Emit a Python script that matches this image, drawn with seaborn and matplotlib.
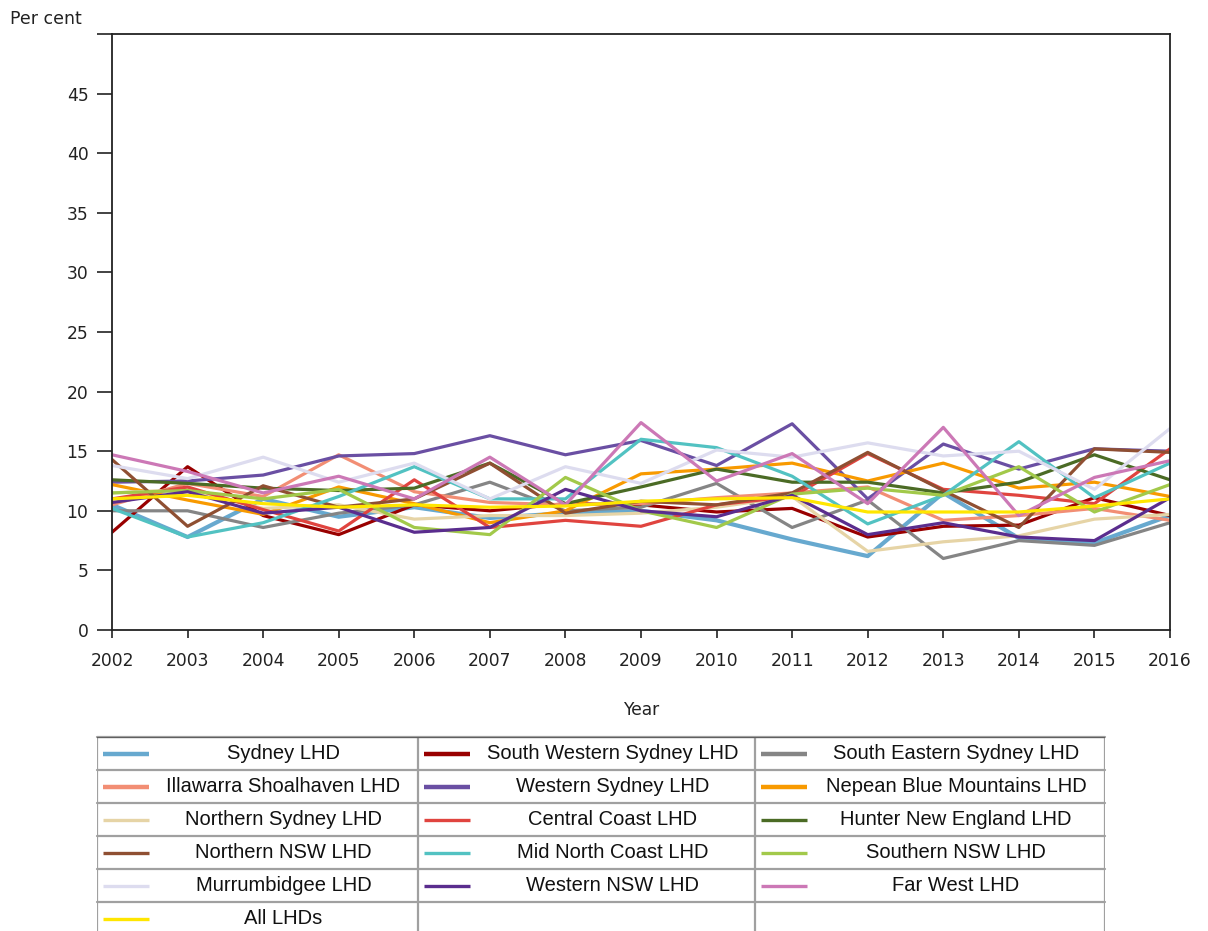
import numpy as np
import pandas as pd
import seaborn as sns
import matplotlib
matplotlib.use("Agg")
import matplotlib.pyplot as plt

years = list(range(2002, 2017))

sydney = [10.5, 7.8, 11.0, 9.5, 10.3, 9.4, 9.8, 10.0, 9.2, 7.6, 6.2, 11.5, 7.7, 7.3, 9.6]
south_western = [8.2, 13.7, 9.6, 8.0, 10.5, 10.0, 10.6, 10.5, 9.9, 10.2, 7.8, 8.7, 8.8, 11.1, 9.6]
south_eastern = [10.0, 10.0, 8.6, 9.8, 10.5, 12.4, 10.0, 10.3, 12.3, 8.6, 10.9, 6.0, 7.5, 7.1, 9.0]
illawarra = [10.5, 12.3, 11.2, 14.7, 11.6, 10.7, 10.5, 10.6, 11.1, 11.5, 12.0, 9.2, 9.6, 10.2, 9.2]
western_sydney = [12.4, 12.5, 13.0, 14.6, 14.8, 16.3, 14.7, 15.9, 13.8, 17.3, 11.0, 15.6, 13.5, 15.2, 15.0]
nepean = [12.2, 10.9, 9.7, 12.0, 10.6, 9.0, 10.0, 13.1, 13.5, 14.0, 12.5, 14.0, 11.9, 12.4, 11.2]
northern_sydney = [11.5, 11.8, 10.2, 10.5, 9.3, 9.6, 9.6, 9.8, 10.3, 11.2, 6.6, 7.4, 7.9, 9.3, 9.7]
central_coast = [11.0, 12.0, 10.1, 8.3, 12.6, 8.6, 9.2, 8.7, 10.5, 11.2, 14.8, 11.8, 11.3, 10.6, 15.2]
hunter_ne = [12.6, 12.3, 11.9, 11.7, 11.9, 14.0, 10.6, 12.0, 13.5, 12.4, 12.4, 11.5, 12.4, 14.7, 12.6]
northern_nsw = [14.3, 8.7, 12.1, 10.3, 11.0, 14.0, 9.8, 10.8, 10.5, 11.5, 14.9, 11.7, 8.6, 15.2, 14.9]
mid_north_coast = [10.2, 7.8, 9.0, 11.2, 13.7, 11.0, 11.0, 16.0, 15.3, 12.9, 8.9, 11.3, 15.8, 11.1, 14.0]
southern_nsw = [11.5, 11.7, 11.0, 11.8, 8.6, 8.0, 12.8, 10.0, 8.6, 11.4, 11.9, 11.3, 13.7, 9.9, 12.2]
murrumbidgee = [13.8, 12.7, 14.5, 12.4, 14.0, 11.0, 13.7, 12.3, 15.1, 14.5, 15.7, 14.6, 15.0, 11.8, 16.9]
western_nsw = [10.7, 11.6, 9.8, 10.3, 8.2, 8.6, 11.8, 10.0, 9.5, 11.3, 8.0, 9.0, 7.8, 7.5, 11.1]
far_west = [14.7, 13.3, 11.5, 12.9, 11.0, 14.5, 10.5, 17.4, 12.5, 14.8, 10.6, 17.0, 9.6, 12.8, 14.2]
all_lhds = [11.0, 11.3, 10.6, 10.3, 10.5, 10.3, 10.4, 10.8, 11.0, 11.1, 9.9, 9.9, 9.9, 10.4, 11.0]

names = ["Sydney LHD", "South Western Sydney LHD", "South Eastern Sydney LHD",
         "Illawarra Shoalhaven LHD", "Western Sydney LHD", "Nepean Blue Mountains LHD",
         "Northern Sydney LHD", "Central Coast LHD", "Hunter New England LHD",
         "Northern NSW LHD", "Mid North Coast LHD", "Southern NSW LHD",
         "Murrumbidgee LHD", "Western NSW LHD", "Far West LHD", "All LHDs"]
series = [sydney, south_western, south_eastern, illawarra, western_sydney, nepean,
          northern_sydney, central_coast, hunter_ne, northern_nsw, mid_north_coast,
          southern_nsw, murrumbidgee, western_nsw, far_west, all_lhds]
colors = ["#67a9cf", "#990000", "#858585", "#f28e74", "#6a4fa3", "#f89a00",
          "#e6d4a6", "#e0443f", "#4b6b25", "#8f4f32", "#52c2c2", "#a2c94a",
          "#dddcef", "#5a2d8e", "#cc78b6", "#ffe600"]
thick = {"Sydney LHD": 3.0}

df = pd.DataFrame([(n, y, v) for n, s in zip(names, series) for y, v in zip(years, s)],
                  columns=["LHD", "Year", "Value"])
palette = dict(zip(names, colors))

sns.set_style("white")
plt.rcParams['font.family'] = ['DejaVu Sans']

W, H = 1208, 931
fig = plt.figure(figsize=(W / 100, H / 100), dpi=100)
ax = fig.add_axes([112 / W, 1 - 630 / H, (1170 - 112) / W, (630 - 34) / H])

for n in names:
    sns.lineplot(data=df[df["LHD"] == n], x="Year", y="Value", color=palette[n],
                 lw=thick.get(n, 2.3), ax=ax, legend=False)

ax.set_xlim(2002, 2016)
ax.set_ylim(0, 50)
ax.set_xticks(years)
ax.set_xticklabels([str(y) for y in years], fontsize=12.3, color="#222222")
yt = list(range(0, 51, 5))
ax.set_yticks(yt)
ax.set_yticklabels([str(v) if v < 50 else "" for v in yt], fontsize=12.3, color="#222222")
ax.tick_params(axis="y", direction="out", length=11, width=1.2, color="#222222", pad=6, left=True)
ax.tick_params(axis="x", direction="out", length=6, width=1.2, color="#222222", pad=10, bottom=True)
for sp in ax.spines.values():
    sp.set_visible(True)
    sp.set_color("#222222")
    sp.set_linewidth(1.3)
ax.set_xlabel("Year", fontsize=12.3, color="#222222", labelpad=22)
ax.set_ylabel("")
fig.text(10 / W, 1 - 19 / H, "Per cent", fontsize=12.5, color="#222222", va="center", ha="left")

# legend table
lx0, lx1, ly0 = 97, 1105, 737
lax = fig.add_axes([lx0 / W, 0, (lx1 - lx0) / W, (H - ly0) / H])
lax.set_xlim(0, lx1 - lx0)
lax.set_ylim(H - ly0, 0)
lax.axis("off")
cols = [0, 321, 658, 1008]
rowh = 33
nrows = 6
for r in range(nrows + 1):
    lax.plot([0, 1008], [r * rowh, r * rowh], color="#a0a0a0", lw=1.6, clip_on=False)
for c in cols:
    lax.plot([c, c], [0, nrows * rowh], color="#a0a0a0", lw=1.6, clip_on=True)
lax.plot([0, 1008], [0, 0], color="#606060", lw=1.6)
for i, n in enumerate(names):
    r, c = divmod(i, 3)
    x0 = cols[c]
    yc = r * rowh + rowh / 2
    lw_sw = 3.2 if i < 6 else 2.4
    lax.plot([x0 + 6, x0 + 52], [yc, yc], color=palette[n], lw=lw_sw, solid_capstyle="butt")
    lax.text((x0 + 52 + cols[c + 1]) / 2, yc, n, ha="center", va="center",
             fontsize=14.5, family=["Liberation Sans", "DejaVu Sans"], color="#111111")

fig.savefig("out.png", dpi=100)
